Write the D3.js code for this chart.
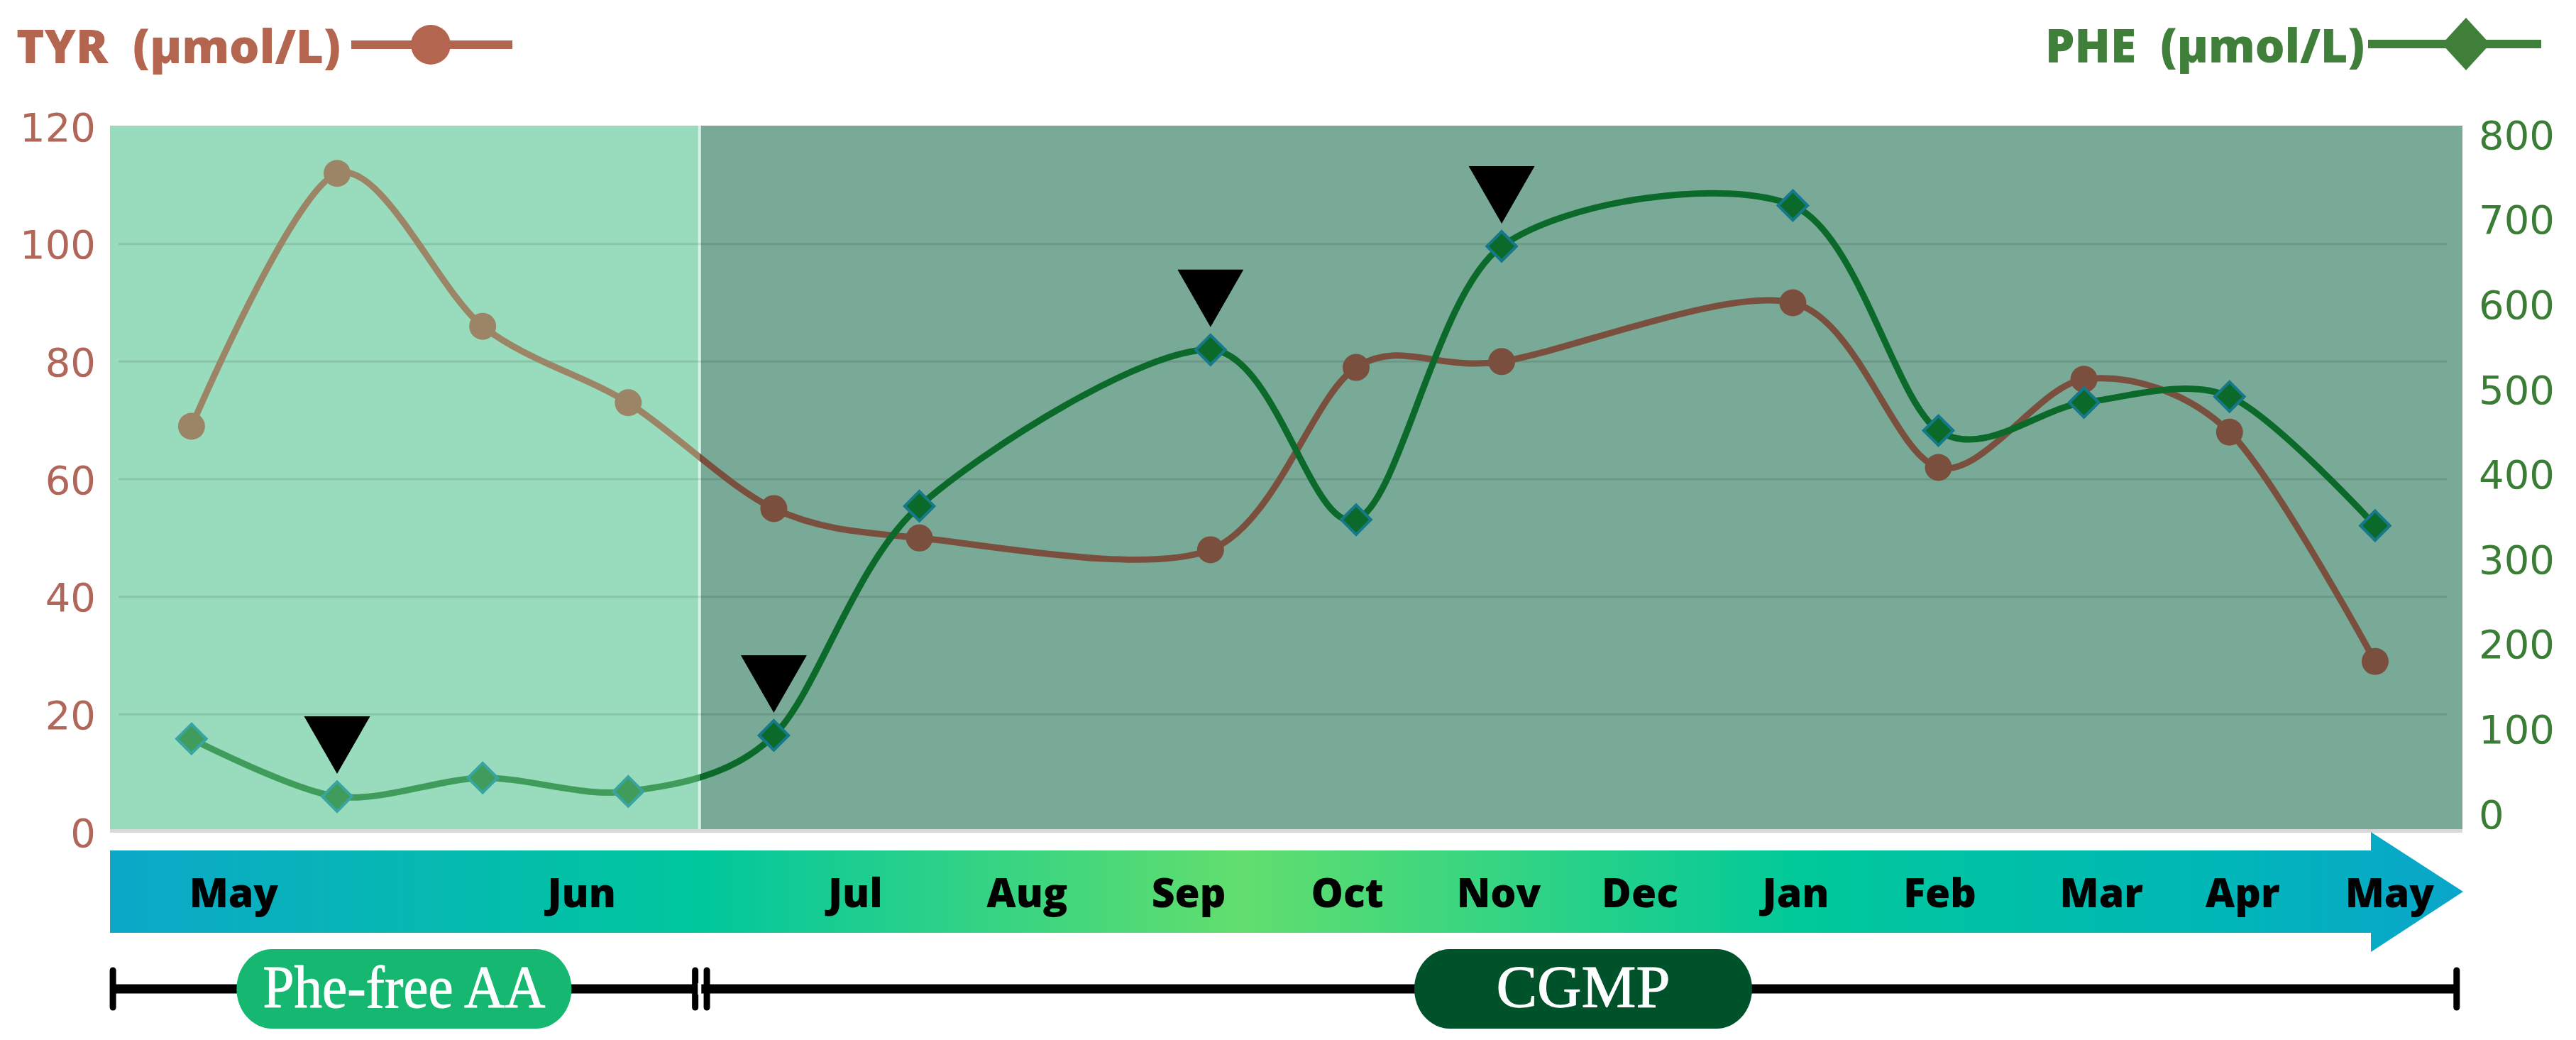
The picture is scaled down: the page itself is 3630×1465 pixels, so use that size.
<!DOCTYPE html>
<html>
<head>
  <meta charset="utf-8">
  <title>TYR and PHE over time</title>
  <script src="https://d3js.org/d3.v7.min.js"></script>
  <style>
    body { margin: 0; background: #fff; }
    .month { font-family: "Open Sans", sans-serif; font-weight: 800; font-size: 57px; fill: #000; }
    .axis text { font-family: "DejaVu Sans", sans-serif; font-size: 56px; }
    .pill-text { font-family: "Liberation Serif", serif; font-size: 84px; fill: #fff; stroke: #fff; stroke-width: 1; }
    .legend { font-family: "Open Sans", sans-serif; font-weight: 800; font-size: 66px; white-space: pre; }
  </style>
</head>
<body>
<div id="chart"></div>
<script>
  // measurement slots (index on a 16-slot grid, slots 6 and 10 empty)
  const slots = [0, 1, 2, 3, 4, 5, 7, 8, 9, 11, 12, 13, 14, 15];
  const tyr = [69, 112, 86, 73, 55, 50, 48, 79, 80, 90, 62, 77, 68, 29];
  const phe = [88, 20, 42, 26, 92, 362, 546, 346, 668, 716, 451, 484, 491, 339];

  // slots marked with a black triangle
  const markedSlots = [1, 4, 7, 9];

  // month labels on the arrow and where they sit on the slot grid
  const months = ["May", "Jun", "Jul", "Aug", "Sep", "Oct", "Nov", "Dec", "Jan", "Feb", "Mar", "Apr", "May"];
  const monthSlots = [0.29, 2.68, 4.56, 5.74, 6.85, 7.94, 8.98, 9.95, 11.02, 12.01, 13.12, 14.09, 15.10];

  const tyrTicks = [0, 20, 40, 60, 80, 100, 120];
  const pheTicks = [0, 100, 200, 300, 400, 500, 600, 700, 800];

  // treatment phases
  const phaseNames = ["Phe-free AA", "CGMP"];
  const phaseStart = [-0.54, 3.54];
  const phaseEnd = [3.46, 15.56];
  const phaseLabelAt = [1.46, 9.56];
  const switchSlot = 3.49;

  const W = 3630, H = 1465;
  const plot = {left: 155, right: 3470, top: 177, bottom: 1168};

  const svg = d3.select("#chart").append("svg")
    .attr("width", W)
    .attr("height", H);

  const x = d3.scaleLinear().domain([-0.56, 15.6]).range([plot.left, plot.right]);
  const yL = d3.scaleLinear().domain([0, 120]).range([1172, 178]);
  const yR = d3.scaleLinear().domain([0, 800]).range([1146, 189]);

  const defs = svg.append("defs");
  defs.append("clipPath").attr("id", "clipLight")
    .append("rect").attr("x", 0).attr("y", 0).attr("width", x(switchSlot)).attr("height", H);
  defs.append("clipPath").attr("id", "clipDark")
    .append("rect").attr("x", x(switchSlot)).attr("y", 0).attr("width", W - x(switchSlot)).attr("height", H);

  // backgrounds
  svg.append("rect")
    .attr("x", plot.left).attr("y", plot.bottom)
    .attr("width", plot.right - plot.left).attr("height", 5)
    .attr("fill", "#d8d8d8");
  svg.append("rect")
    .attr("x", plot.left).attr("y", plot.top)
    .attr("width", plot.right - plot.left).attr("height", plot.bottom - plot.top)
    .attr("fill", "#78aa97");
  svg.append("rect")
    .attr("x", plot.left).attr("y", plot.top)
    .attr("width", x(switchSlot) - plot.left).attr("height", plot.bottom - plot.top)
    .attr("fill", "#99dcbd");
  svg.append("line")
    .attr("x1", x(switchSlot)).attr("x2", x(switchSlot))
    .attr("y1", plot.top).attr("y2", plot.bottom)
    .attr("stroke", "#d4f3e6").attr("stroke-width", 4);

  // gridlines
  svg.append("g").selectAll("line")
    .data(tyrTicks.filter(d => d > 0 && d < 120))
    .join("line")
    .attr("x1", plot.left + 12).attr("x2", plot.right - 22)
    .attr("y1", d => yL(d)).attr("y2", d => yL(d))
    .attr("stroke", "#000").attr("stroke-opacity", 0.1).attr("stroke-width", 3);

  // axes
  const axL = svg.append("g").attr("class", "axis")
    .attr("transform", "translate(135,0)")
    .call(d3.axisLeft(yL).tickValues(tyrTicks).tickSize(0).tickPadding(0));
  axL.select(".domain").remove();
  axL.selectAll("text").attr("fill", "#b0675a").attr("dy", "0.36em");

  const axR = svg.append("g").attr("class", "axis")
    .attr("transform", "translate(3493,0)")
    .call(d3.axisRight(yR).tickValues(pheTicks).tickSize(0).tickPadding(0));
  axR.select(".domain").remove();
  axR.selectAll("text").attr("fill", "#3a7d35").attr("dy", "0.36em");

  // series
  const tyrPts = slots.map((s, i) => ({s: s, v: tyr[i]}));
  const phePts = slots.map((s, i) => ({s: s, v: phe[i]}));

  const tyrLine = d3.line().x(d => x(d.s)).y(d => yL(d.v)).curve(d3.curveCardinal.tension(0.1));
  const pheLine = d3.line().x(d => x(d.s)).y(d => yR(d.v)).curve(d3.curveCardinal.tension(0.1));

  const looks = [
    {clip: "clipLight", tyr: "#9c8566", phe: "#3f9c5a", pheStroke: "#3aa5a0"},
    {clip: "clipDark", tyr: "#7b4f3e", phe: "#0b6a2a", pheStroke: "#16798a"}
  ];

  looks.forEach(lk => {
    const g = svg.append("g").attr("clip-path", "url(#" + lk.clip + ")");
    g.append("path").datum(tyrPts)
      .attr("d", tyrLine).attr("fill", "none")
      .attr("stroke", lk.tyr).attr("stroke-width", 9);
    g.selectAll(".tyrDot").data(tyrPts).join("circle")
      .attr("cx", d => x(d.s)).attr("cy", d => yL(d.v)).attr("r", 19)
      .attr("fill", lk.tyr);
    g.append("path").datum(phePts)
      .attr("d", pheLine).attr("fill", "none")
      .attr("stroke", lk.phe).attr("stroke-width", 9);
    g.selectAll(".pheDot").data(phePts).join("path")
      .attr("d", d3.symbol(d3.symbolDiamond2, 1100))
      .attr("transform", d => "translate(" + x(d.s) + "," + yR(d.v) + ")")
      .attr("fill", lk.phe).attr("stroke", lk.pheStroke).attr("stroke-width", 4);
  });

  // black triangles over marked points (tip 32px above the point)
  const triW = 93, triH = 81, triGap = 32;
  svg.append("g").selectAll("path")
    .data(markedSlots.map(s => phePts.find(p => p.s === s)))
    .join("path")
    .attr("d", d => {
      const cx = x(d.s), tip = yR(d.v) - triGap;
      return d3.line()([[cx - triW / 2, tip - triH], [cx + triW / 2, tip - triH], [cx, tip]]) + "Z";
    })
    .attr("fill", "#000");

  // month arrow
  const grad = defs.append("linearGradient").attr("id", "band")
    .attr("x1", "0%").attr("x2", "100%").attr("y1", "0%").attr("y2", "0%");
  [[0, "#0ca8c9"], [0.25, "#00c79d"], [0.48, "#62de6e"], [0.72, "#00c99a"], [0.9, "#00b6b8"], [1, "#0aa5cb"]]
    .forEach(st => grad.append("stop").attr("offset", st[0]).attr("stop-color", st[1]));

  const bandTop = 1198, bandBot = 1314, bodyEnd = 3341, tipX = 3471;
  const mid = (bandTop + bandBot) / 2;
  svg.append("path")
    .attr("d", d3.line()([
      [plot.left, bandTop], [bodyEnd, bandTop], [bodyEnd, 1172], [tipX, mid],
      [bodyEnd, 1341], [bodyEnd, bandBot], [plot.left, bandBot]
    ]) + "Z")
    .attr("fill", "url(#band)");

  svg.append("g").selectAll("text")
    .data(months)
    .join("text")
    .attr("class", "month")
    .attr("x", (d, i) => x(monthSlots[i]))
    .attr("y", 1278)
    .attr("text-anchor", "middle")
    .text(d => d);

  // phase timeline
  const tlY = 1393;
  const tl = svg.append("g");
  tl.append("line")
    .attr("x1", x(phaseStart[0])).attr("x2", x(phaseEnd[1]))
    .attr("y1", tlY).attr("y2", tlY)
    .attr("stroke", "#000").attr("stroke-width", 13);
  const tickXs = [phaseStart[0], phaseEnd[0], phaseStart[1], phaseEnd[1]];
  tl.selectAll(".tick").data(tickXs).join("line")
    .attr("x1", d => x(d)).attr("x2", d => x(d))
    .attr("y1", tlY - 26).attr("y2", tlY + 26)
    .attr("stroke", "#000").attr("stroke-width", 9).attr("stroke-linecap", "round");
  // small white gap between the double bar
  tl.append("line")
    .attr("x1", x(switchSlot)).attr("x2", x(switchSlot))
    .attr("y1", tlY - 8).attr("y2", tlY + 8)
    .attr("stroke", "#fff").attr("stroke-width", 5);

  const pillFill = ["#16b871", "#00522b"];
  const pillW = [472, 476], pillH = 112, textW = [398, 245];
  phaseNames.forEach((name, i) => {
    const cx = x(phaseLabelAt[i]);
    tl.append("rect")
      .attr("x", cx - pillW[i] / 2).attr("y", tlY - pillH / 2)
      .attr("width", pillW[i]).attr("height", pillH)
      .attr("rx", 50).attr("ry", 56)
      .attr("fill", pillFill[i]);
    tl.append("text")
      .attr("class", "pill-text")
      .attr("x", cx).attr("y", tlY + 26)
      .attr("text-anchor", "middle")
      .attr("textLength", textW[i])
      .attr("lengthAdjust", "spacingAndGlyphs")
      .text(name);
  });

  // legends
  const lg = svg.append("g");
  lg.append("text").attr("class", "legend")
    .attr("x", 23).attr("y", 89).attr("fill", "#b3654f")
    .attr("textLength", 457).attr("lengthAdjust", "spacingAndGlyphs")
    .text("TYR  (µmol/L)");
  lg.append("line").attr("x1", 495).attr("x2", 722).attr("y1", 63).attr("y2", 63)
    .attr("stroke", "#b3654f").attr("stroke-width", 12);
  lg.append("circle").attr("cx", 607).attr("cy", 63).attr("r", 28).attr("fill", "#b3654f");

  lg.append("text").attr("class", "legend")
    .attr("x", 2882).attr("y", 88).attr("fill", "#3f7f3a")
    .attr("textLength", 450).attr("lengthAdjust", "spacingAndGlyphs")
    .text("PHE  (µmol/L)");
  lg.append("line").attr("x1", 3337).attr("x2", 3581).attr("y1", 62).attr("y2", 62)
    .attr("stroke", "#3f7f3a").attr("stroke-width", 12);
  lg.append("path")
    .attr("d", "M3475,25 L3509,62 L3475,99 L3441,62 Z")
    .attr("fill", "#3f7f3a");
</script>
</body>
</html>
